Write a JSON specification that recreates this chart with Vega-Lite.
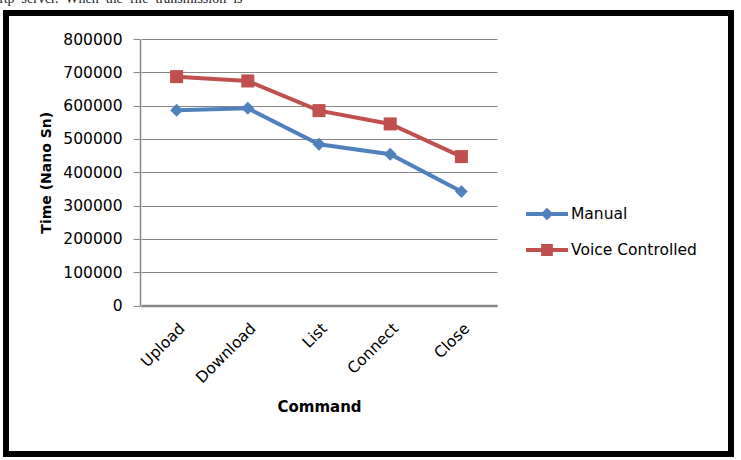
{
  "$schema": "https://vega.github.io/schema/vega-lite/v6.json",
  "width": 725,
  "height": 441,
  "autosize": {"type": "none"},
  "padding": {"left": 6, "top": 13, "right": 10, "bottom": 6},
  "background": "white",
  "title": {
    "text": "ftp\u00a0 server.\u00a0 When\u00a0 the\u00a0 file\u00a0 transmission\u00a0 is",
    "anchor": "start",
    "frame": "group",
    "orient": "top",
    "baseline": "alphabetic",
    "offset": 1,
    "dy": 5,
    "dx": -7,
    "font": "Liberation Serif",
    "fontSize": 14,
    "fontWeight": "normal",
    "color": "#222222"
  },
  "config": {
    "view": {"stroke": "black", "strokeWidth": 6},
    "axis": {"labelFont": "DejaVu Sans", "titleFont": "DejaVu Sans", "labelColor": "black", "titleColor": "black"}
  },
  "data": {
    "values": [
      {"command": "Upload", "series": "Manual", "time": 586000},
      {"command": "Download", "series": "Manual", "time": 592000},
      {"command": "List", "series": "Manual", "time": 484000},
      {"command": "Connect", "series": "Manual", "time": 454000},
      {"command": "Close", "series": "Manual", "time": 342000},
      {"command": "Upload", "series": "Voice Controlled", "time": 687000},
      {"command": "Download", "series": "Voice Controlled", "time": 674000},
      {"command": "List", "series": "Voice Controlled", "time": 585000},
      {"command": "Connect", "series": "Voice Controlled", "time": 545000},
      {"command": "Close", "series": "Voice Controlled", "time": 447000}
    ]
  },
  "encoding": {
    "x": {
      "field": "command",
      "type": "nominal",
      "sort": ["Upload", "Download", "List", "Connect", "Close"],
      "scale": {"type": "point", "padding": 0.5, "range": [135, 491]},
      "axis": {
        "title": "Command",
        "titleFontSize": 15,
        "titleFontWeight": "bold",
        "titlePadding": 14,
        "labelAngle": -45,
        "labelFontSize": 15.5,
        "labelPadding": 15,
        "ticks": false,
        "domainColor": "#868686",
        "domainWidth": 2.5,
        "offset": -148.5,
        "grid": false
      }
    },
    "y": {
      "field": "time",
      "type": "quantitative",
      "scale": {"domain": [0, 800000], "nice": false, "range": [292.5, 26]},
      "axis": {
        "title": "Time (Nano Sn)",
        "titleFontSize": 14,
        "titleFontWeight": "bold",
        "titlePadding": 9,
        "values": [0, 100000, 200000, 300000, 400000, 500000, 600000, 700000, 800000],
        "format": "d",
        "labelFontSize": 15.5,
        "labelPadding": 11,
        "tickSize": 7,
        "tickColor": "#868686",
        "domainColor": "#868686",
        "domainWidth": 1.5,
        "gridColor": "#868686",
        "gridWidth": 1,
        "offset": -134
      }
    }
  },
  "layer": [
    {
      "transform": [{"filter": {"field": "series", "equal": "Manual"}}],
      "mark": {"type": "line", "strokeWidth": 4, "color": "#4F81BD"}
    },
    {
      "transform": [{"filter": {"field": "series", "equal": "Voice Controlled"}}],
      "mark": {"type": "line", "strokeWidth": 4, "color": "#C0504D"}
    },
    {
      "transform": [{"filter": {"field": "series", "equal": "Manual"}}],
      "mark": {"type": "point", "shape": "diamond", "filled": true, "size": 165, "opacity": 1, "color": "#4F81BD"}
    },
    {
      "transform": [{"filter": {"field": "series", "equal": "Voice Controlled"}}],
      "mark": {"type": "point", "shape": "square", "filled": true, "size": 170, "opacity": 1, "color": "#C0504D"}
    },
    {
      "mark": {"type": "point", "filled": true, "opacity": 0},
      "encoding": {
        "color": {
          "field": "series",
          "type": "nominal",
          "scale": {"domain": ["Manual", "Voice Controlled"], "range": ["#4F81BD", "#C0504D"]},
          "legend": {
            "title": null,
            "orient": "none",
            "legendX": 520,
            "legendY": 180,
            "padding": 0,
            "symbolSize": 1764,
            "symbolOpacity": 1,
            "symbolStrokeWidth": 0,
            "labelFont": "DejaVu Sans",
            "labelFontSize": 15.5,
            "labelColor": "black",
            "labelOffset": 3,
            "rowPadding": 6
          }
        },
        "shape": {
          "field": "series",
          "type": "nominal",
          "scale": {
            "domain": ["Manual", "Voice Controlled"],
            "range": [
              "M-1,-0.09H1V0.09H-1Z M-0.3,0L0,-0.3L0.3,0L0,0.3Z",
              "M-1,-0.09H1V0.09H-1Z M-0.28,-0.28H0.28V0.28H-0.28Z"
            ]
          },
          "legend": {
            "title": null,
            "orient": "none",
            "legendX": 520,
            "legendY": 180,
            "padding": 0,
            "symbolSize": 1764,
            "symbolOpacity": 1,
            "symbolStrokeWidth": 0,
            "labelFont": "DejaVu Sans",
            "labelFontSize": 15.5,
            "labelColor": "black",
            "labelOffset": 3,
            "rowPadding": 6
          }
        }
      }
    }
  ]
}
